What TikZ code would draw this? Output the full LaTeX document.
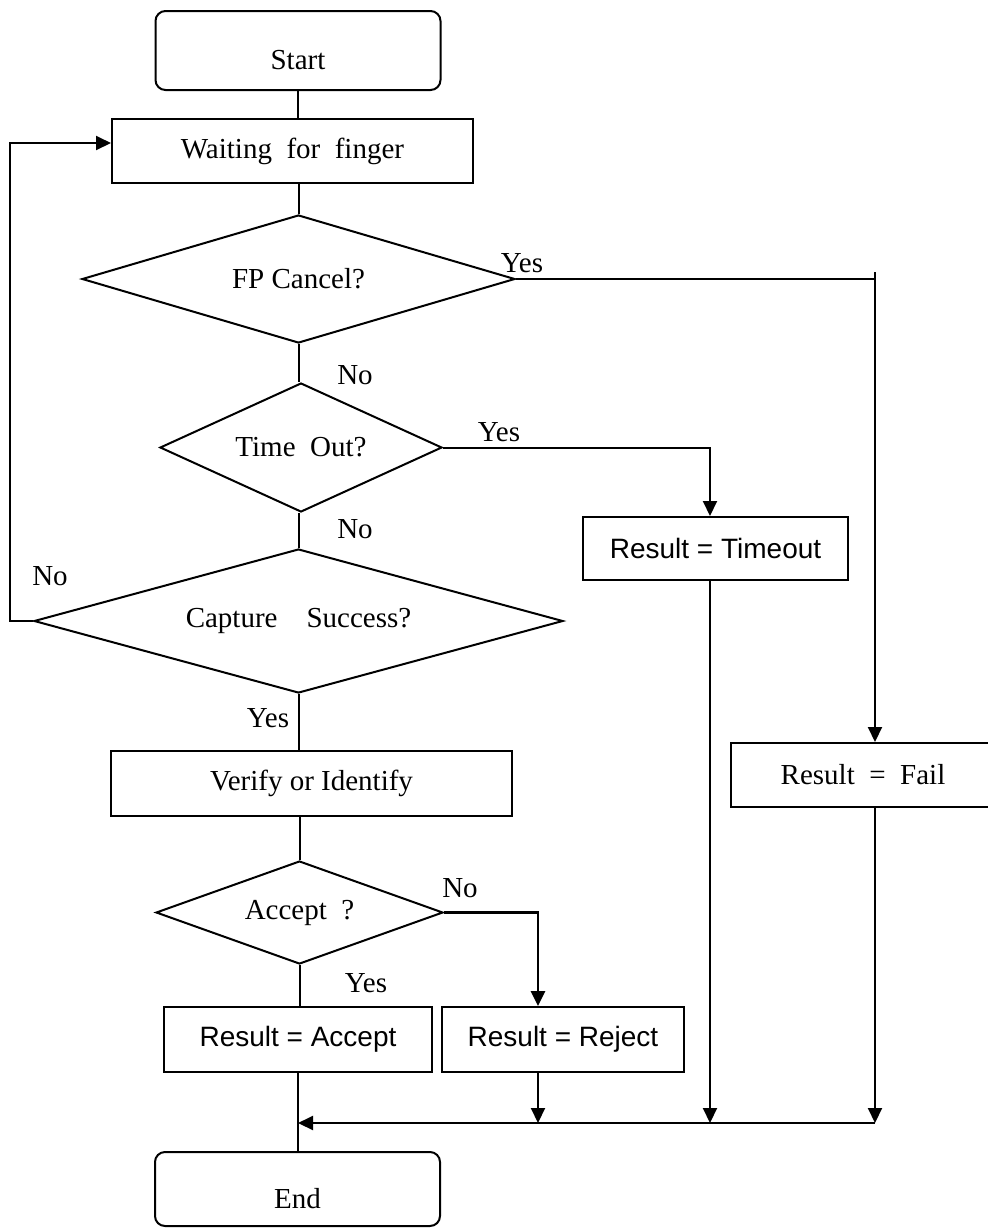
\documentclass[tikz,border=0pt]{standalone}
\usepackage{fontspec}
\setmainfont{Liberation Serif}
\setsansfont{Liberation Sans}
\usetikzlibrary{shapes.geometric,arrows.meta}

\begin{document}
\begin{tikzpicture}[
  x=0.5pt, y=-0.5pt,
  line width=1pt,
  term/.style={draw, rounded corners=5pt, line width=1pt, minimum width=#1,
    font=\fontsize{14.5}{17}\selectfont, text height=22pt, text depth=3pt},
  proc/.style={draw, line width=1pt, minimum width=#1, minimum height=32.5pt,
    font=\fontsize{14.5}{17}\selectfont},
  res/.style={draw, line width=1pt, minimum width=#1, minimum height=32.5pt,
    font=\sffamily\fontsize{14}{17}\selectfont},
  decide/.style={draw, diamond, inner sep=0pt, line width=1pt, aspect=#1,
    font=\fontsize{14.5}{17}\selectfont},
  lbl/.style={font=\fontsize{14.5}{17}\selectfont},
  >={Triangle[length=7.5pt,width=7pt]}
]
\useasboundingbox (0,0) rectangle (988,1228);

% Boxes and decisions
\node[term=142.5pt, minimum height=39.5pt] (start) at (298,50.5) {Start};
\node[proc=180.5pt, minimum height=32pt] (wait) at (292.5,151) {Waiting~~for~~finger};
\node[decide=3.4, minimum width=216.5pt, minimum height=64pt] (fp) at (298.5,279) {FP~Cancel?};
\node[decide=2.2, minimum width=141pt, minimum height=64.5pt] (to) at (301,447.5) {Time~~Out?};
\node[decide=3.7, minimum width=264.5pt, minimum height=72pt] (cs) at (298.5,621) {Capture\hspace{1em}Success?};
\node[proc=200.5pt] (ver) at (311.5,783.5) {Verify or Identify};
\node[decide=2.8, minimum width=143.5pt, minimum height=51.5pt] (acc) at (299.5,912.5) {Accept~~?};
\node[res=134pt] (racc) at (298,1039.5) {Result = Accept};
\node[res=121pt] (rrej) at (563,1039.5) {Result = Reject};
\node[res=132.5pt, minimum height=31.5pt] (rto) at (715.5,548.5) {Result = Timeout};
\node[proc=132pt, minimum height=32pt] (rfail) at (863,775) {Result~~=~~Fail};
\node[term=142.5pt, minimum height=37pt] (end) at (297.5,1189) {End};

% Branch labels
\node[lbl] (yfp) at (522,263) {Yes};
\node[lbl] (nfp) at (355,375) {No};
\node[lbl] (yto) at (499,432) {Yes};
\node[lbl] (nto) at (355,529) {No};
\node[lbl] (ncs) at (50,576) {No};
\node[lbl] (ycs) at (268,718) {Yes};
\node[lbl] (nacc) at (460,888) {No};
\node[lbl] (yacc) at (366,983) {Yes};

% Main line
\draw (start.south) -- (start.south |- wait.north);
\draw (wait.south -| fp.north) -- (fp.north);
\draw (fp.south) -- (fp.south |- to.north);
\draw (cs.north |- to.south) -- (cs.north);
\draw (cs.south) -- (cs.south |- ver.north);
\draw (acc.north |- ver.south) -- (acc.north);
\draw (acc.south) -- (acc.south |- racc.north);
\draw (racc.south) -- (racc.south |- end.north);

% Side branches
\coordinate (lanefail) at (875,272);
\coordinate (laneto) at (710,447);
\coordinate (lanerej) at (538,912.5);
\coordinate (merge) at (875,1123);
\coordinate (loop) at (10,143);

\draw (fp.east) -- (fp.east -| lanefail);
\draw[->] (lanefail) -- (lanefail |- rfail.north);
\draw[->] (to.east) -| (laneto |- rto.north);
\draw[->, line width=1.4pt] (acc.east) -| (lanerej |- rrej.north);
\draw[->] (cs.west) -| (loop) -- (loop -| wait.west);

% Back to End
\draw[->] (lanefail |- rfail.south) -- (merge);
\draw[->] (laneto |- rto.south) -- (laneto |- merge);
\draw[->] (lanerej |- rrej.south) -- (lanerej |- merge);
\draw[->] (merge) -- (merge -| racc.south);

\end{tikzpicture}
\end{document}
